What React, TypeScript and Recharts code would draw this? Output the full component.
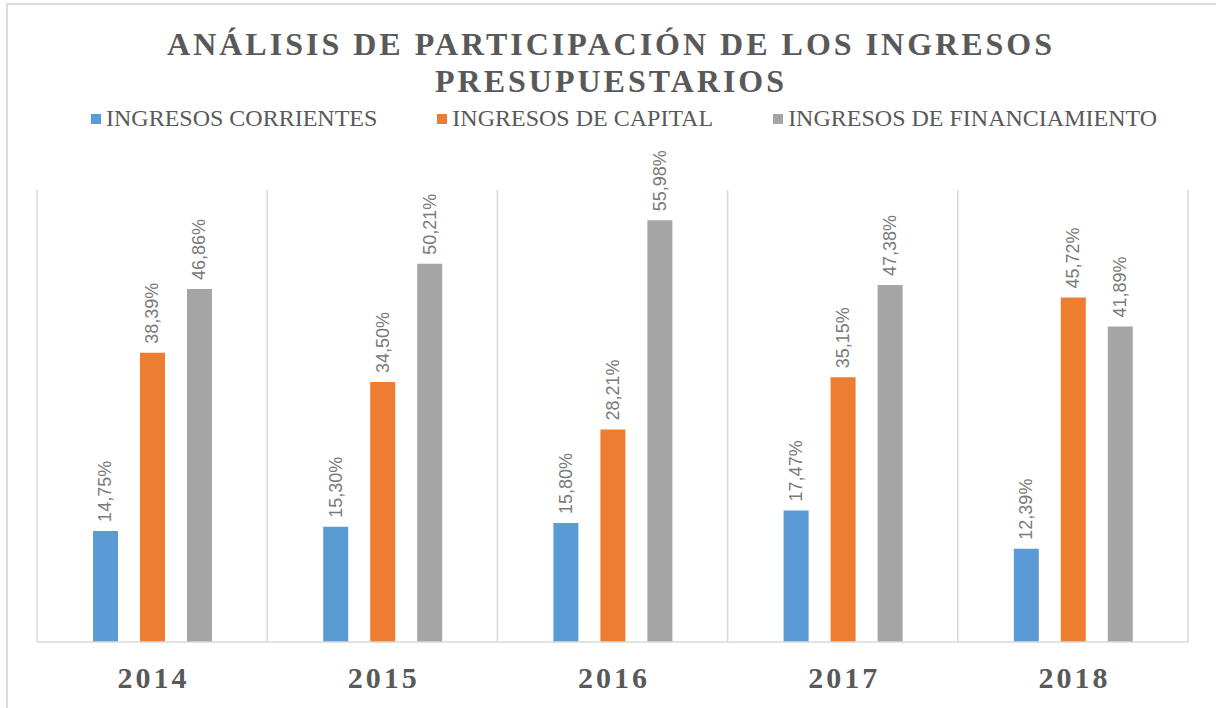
import React from "react";
import { BarChart, Bar, XAxis, YAxis, CartesianGrid, LabelList } from "recharts";

const years = ["2014", "2015", "2016", "2017", "2018"];
const corrientes = [0.1475, 0.153, 0.158, 0.1747, 0.1239];
const capital = [0.3839, 0.345, 0.2821, 0.3515, 0.4572];
const financiamiento = [0.4686, 0.5021, 0.5598, 0.4738, 0.4189];

const seriesNames = ["INGRESOS CORRIENTES", "INGRESOS DE CAPITAL", "INGRESOS DE FINANCIAMIENTO"];
const seriesKeys = ["corrientes", "capital", "financiamiento"];
const colors = ["#5b9bd5", "#ed7d31", "#a5a5a5"];

const data = years.map((y, i) => ({
  year: y,
  corrientes: corrientes[i],
  capital: capital[i],
  financiamiento: financiamiento[i],
}));

const fmt = (v: number) => (v * 100).toFixed(2).replace(".", ",") + "%";

const RotatedLabel = (props: any) => {
  const { x, y, width, value } = props;
  const cx = x + width / 2;
  return (
    <text
      x={cx}
      y={y - 9}
      transform={`rotate(-90 ${cx} ${y - 9})`}
      textAnchor="start"
      dominantBaseline="central"
      fontFamily="'Liberation Sans', Arial, sans-serif"
      fontSize={18}
      fill="#7a7a7a"
    >
      {fmt(value)}
    </text>
  );
};

const YearTick = (props: any) => {
  const { x, payload } = props;
  return (
    <text
      x={x + 1.5}
      y={688}
      textAnchor="middle"
      fontFamily="'Liberation Serif', 'Times New Roman', serif"
      fontWeight="bold"
      fontSize={30}
      letterSpacing={3}
      fill="#595959"
    >
      {payload.value}
    </text>
  );
};

export default function App() {
  return (
    <div style={{ position: "absolute", left: 0, top: 0, width: 1216, height: 708, background: "#fff", overflow: "hidden" }}>
      <div
        style={{
          position: "absolute",
          left: 6,
          top: 3,
          width: 1230,
          height: 720,
          border: "2px solid #d9d9d9",
        }}
      />
      <div
        style={{
          position: "absolute",
          left: 0,
          top: 26,
          width: 1216,
          textAlign: "center",
          fontFamily: "'Liberation Serif', 'Times New Roman', serif",
          fontWeight: "bold",
          fontSize: 32,
          lineHeight: "37px",
          letterSpacing: 3,
          color: "#595959",
          paddingLeft: 3,
        }}
      >
        ANÁLISIS DE PARTICIPACIÓN DE LOS INGRESOS
        <br />
        PRESUPUESTARIOS
      </div>
      <div
        style={{
          position: "absolute",
          top: 104,
          left: 91,
          display: "flex",
          fontFamily: "'Liberation Serif', 'Times New Roman', serif",
          fontSize: 24,
          lineHeight: "28px",
          color: "#595959",
          whiteSpace: "nowrap",
        }}
      >
        {seriesNames.map((n, i) => (
          <div key={n} style={{ display: "flex", alignItems: "center", marginRight: i < 2 ? 60 : 0 }}>
            <span style={{ display: "inline-block", width: 10, height: 10, background: colors[i], marginRight: 5, marginTop: 2 }} />
            <span>{n}</span>
          </div>
        ))}
      </div>
      <div style={{ position: "absolute", left: 0, top: 0 }}>
        <BarChart
          width={1216}
          height={708}
          data={data}
          margin={{ top: 190, right: 28, left: 37, bottom: 16 }}
          barSize={25}
          barGap={22}
        >
          <CartesianGrid
            horizontal={false}
            stroke="#d9d9d9"
            strokeWidth={1.5}
            verticalCoordinatesGenerator={({ offset }: any) =>
              Array.from({ length: years.length + 1 }, (_, i) => offset.left + (i * offset.width) / years.length)
            }
          />
          <XAxis
            dataKey="year"
            height={50}
            axisLine={{ stroke: "#d9d9d9", strokeWidth: 1.5 }}
            tickLine={false}
            tick={<YearTick />}
            interval={0}
          />
          <YAxis hide domain={[0, 0.6]} />
          {seriesKeys.map((k, i) => (
            <Bar key={k} dataKey={k} name={seriesNames[i]} fill={colors[i]} isAnimationActive={false}>
              <LabelList dataKey={k} content={<RotatedLabel />} />
            </Bar>
          ))}
        </BarChart>
      </div>
    </div>
  );
}
